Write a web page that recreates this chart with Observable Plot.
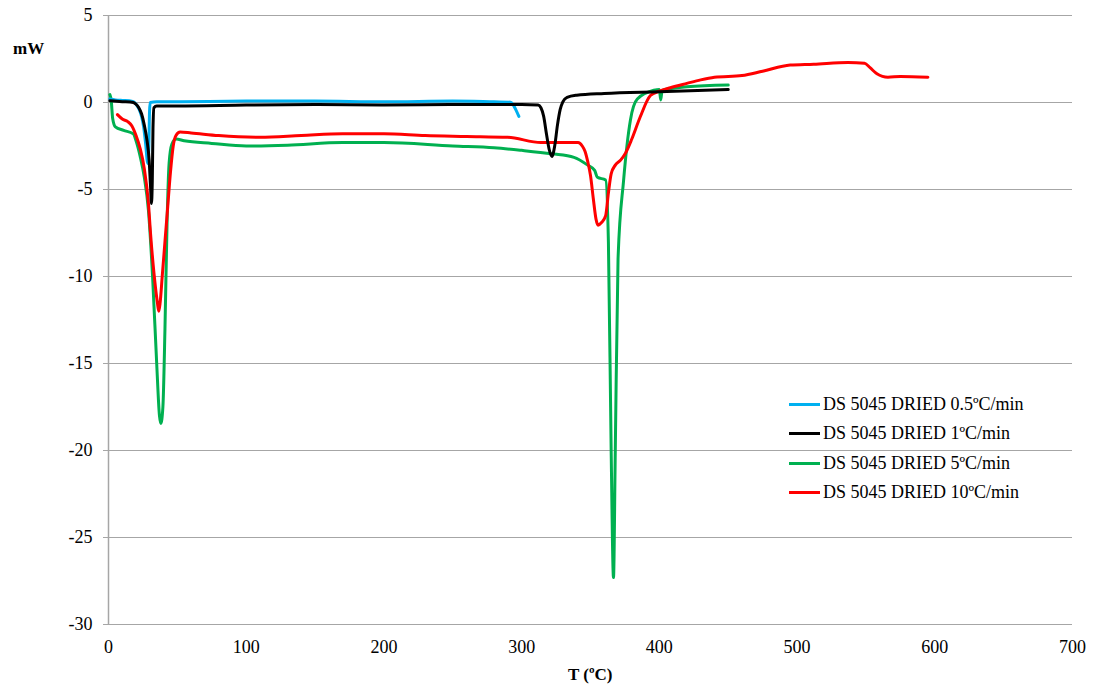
<!DOCTYPE html>
<html>
<head>
<meta charset="utf-8">
<script src="https://cdn.jsdelivr.net/npm/d3@7"></script>
<script src="https://cdn.jsdelivr.net/npm/@observablehq/plot@0.6"></script>
<style>
  html, body { margin: 0; padding: 0; background: #fff; }
  #wrap { position: relative; width: 1094px; height: 690px; font-family: "Liberation Serif", "Times New Roman", serif; }
  #chart svg text { font-family: "Liberation Serif", "Times New Roman", serif; }
  .lbl { position: absolute; font-weight: bold; font-size: 17px; color: #000; white-space: nowrap; }
  #legend { position: absolute; left: 789px; top: 390px; font-size: 18px; color: #000; }
  #legend .row { display: flex; align-items: center; height: 29.3px; white-space: nowrap; }
  #legend .sw { width: 31px; height: 3px; margin-right: 3px; }
</style>
</head>
<body>
<div id="wrap">
  <div id="chart"></div>
  <div class="lbl" style="left:13px; top:39px;">mW</div>
  <div class="lbl" style="left:568px; top:665px;">T (ºC)</div>
  <div id="legend"></div>
</div>
<script>
// ---- data ----
const xTicks = [0, 100, 200, 300, 400, 500, 600, 700];
const yTicks = [-30, -25, -20, -15, -10, -5, 0, 5];

const seriesNames = ["DS 5045 DRIED 0.5ºC/min", "DS 5045 DRIED 1ºC/min", "DS 5045 DRIED 5ºC/min", "DS 5045 DRIED 10ºC/min"];
const seriesColors = ["#00B0F0", "#000000", "#00B050", "#FF0000"];

const t05 = [1, 5, 10, 15, 18, 20, 22, 24, 25.5, 27, 28.5, 29.3, 29.8, 30.3, 35, 50, 100, 150, 200, 250, 280, 292, 294, 296, 298];
const mw05 = [0.2, 0.15, 0.12, 0.1, 0.05, -0.1, -0.35, -0.8, -1.4, -2.4, -3.5, -2.5, -0.5, 0.0, 0.05, 0.05, 0.08, 0.08, 0.04, 0.08, 0.04, 0.02, -0.15, -0.45, -0.8];

const t1 = [1, 10, 18, 20, 22, 24, 26, 28, 29.5, 30.5, 31.2, 31.8, 32.3, 33, 35, 50, 100, 150, 200, 250, 300, 312, 314, 316, 318, 320, 322, 324, 326, 328, 330, 333, 340, 360, 400, 450];
const mw1 = [0.1, 0.05, 0.0, -0.1, -0.3, -0.65, -1.3, -2.2, -3.3, -4.8, -5.8, -4.5, -1.5, -0.3, -0.2, -0.2, -0.15, -0.12, -0.15, -0.12, -0.12, -0.15, -0.3, -0.8, -1.8, -2.7, -3.1, -2.5, -1.3, -0.4, 0.05, 0.3, 0.42, 0.52, 0.62, 0.74];

const t5 = [1, 2, 3, 5, 11, 18, 20, 23, 26, 29, 32, 35, 37, 38, 39.5, 41, 42.5, 44, 46, 49, 55, 75, 100, 130, 170, 200, 250, 280, 300, 322, 338, 348, 353, 355, 361, 363, 365, 366.7, 368, 370, 374, 379, 384, 396, 400, 401, 402, 420, 450];
const mw5 = [0.45, 0.1, -0.9, -1.4, -1.6, -1.8, -2.2, -3.1, -4.3, -6.2, -10, -15, -18, -18.45, -17.5, -13, -7, -3.5, -2.4, -2.1, -2.2, -2.35, -2.5, -2.45, -2.3, -2.3, -2.5, -2.6, -2.75, -2.95, -3.15, -3.6, -3.9, -4.3, -4.45, -8, -20, -27.3, -20, -9, -4.5, -1.0, 0.2, 0.7, 0.75, 0.15, 0.7, 0.9, 1.0];

const t10 = [6.5, 10, 14, 17, 20, 23, 26, 29, 30.5, 33, 35.5, 36.5, 37.5, 39, 41, 43, 45, 47, 49, 52, 60, 80, 110, 140, 170, 200, 230, 260, 290, 314, 330, 341, 344, 346, 348, 350, 352, 354, 355.5, 358, 361, 363, 365, 368, 372, 375.5, 380, 386, 393.5, 400, 408, 420, 430, 440, 460, 475, 495, 512, 537, 549, 553, 558, 562, 566, 575, 595];
const mw10 = [-0.7, -0.95, -1.1, -1.35, -1.9, -2.65, -3.8, -5.8, -7.5, -9.8, -11.5, -12, -11.5, -10, -8, -6, -4, -2.5, -1.9, -1.7, -1.75, -1.9, -2.0, -1.9, -1.8, -1.8, -1.9, -1.95, -2.0, -2.3, -2.3, -2.3, -2.5, -2.8, -3.4, -4.2, -5.5, -6.7, -7.05, -6.9, -6.5, -5.2, -4.1, -3.6, -3.3, -2.9, -2.1, -0.85, 0.4, 0.65, 0.85, 1.1, 1.3, 1.45, 1.55, 1.8, 2.15, 2.2, 2.3, 2.25, 2.0, 1.65, 1.5, 1.45, 1.5, 1.45];

// ---- build table ----
const temps = [t05, t1, t5, t10];
const vals = [mw05, mw1, mw5, mw10];
const rows = [];
const drawOrder = [2, 3, 0, 1];
for (const i of drawOrder) {
  temps[i].forEach((t, j) => rows.push({series: seriesNames[i], T: t, mW: vals[i][j]}));
}

const grid = "#A6A6A6";
const chart = Plot.plot({
  width: 1094,
  height: 690,
  marginLeft: 108,
  marginRight: 22,
  marginTop: 15,
  marginBottom: 66,
  style: {fontFamily: "Liberation Serif, Times New Roman, serif", fontSize: "18px", background: "#fff"},
  x: {domain: [0, 700], label: null},
  y: {domain: [-30, 5], label: null},
  color: {domain: seriesNames, range: seriesColors},
  marks: [
    Plot.gridY(yTicks, {stroke: grid, strokeOpacity: 1, strokeWidth: 1}),
    Plot.ruleX([0], {stroke: grid, strokeWidth: 1.5}),
    Plot.axisY(yTicks, {tickSize: 5, tickPadding: 11, stroke: grid, fill: "#000", fontSize: 18, label: null, tickFormat: d => String(d)}),
    Plot.axisX(xTicks, {tickSize: 0, tickPadding: 16, fill: "#000", fontSize: 18, label: null, tickFormat: d => String(d)}),
    Plot.line(rows, {x: "T", y: "mW", z: "series", stroke: "series", strokeWidth: 3, curve: "monotone-x", strokeLinejoin: "round"})
  ]
});
document.getElementById("chart").appendChild(chart);

// legend
const leg = document.getElementById("legend");
seriesNames.forEach((name, i) => {
  const row = document.createElement("div");
  row.className = "row";
  const sw = document.createElement("div");
  sw.className = "sw";
  sw.style.background = seriesColors[i];
  const tx = document.createElement("span");
  tx.textContent = name;
  row.appendChild(sw);
  row.appendChild(tx);
  leg.appendChild(row);
});
</script>
</body>
</html>
